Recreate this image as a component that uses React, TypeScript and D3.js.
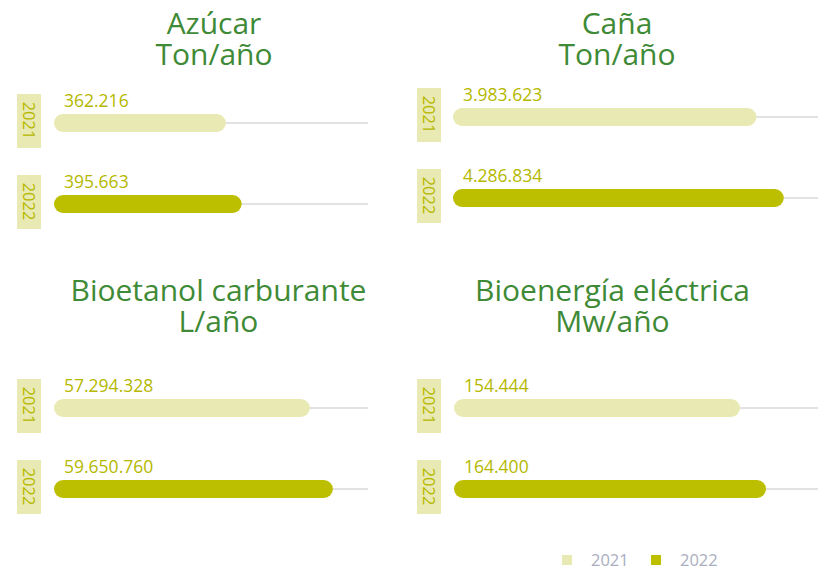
import React, { useEffect, useRef } from "react";
import * as d3 from "d3";

// data
const panels = ["Azúcar", "Caña", "Bioetanol carburante", "Bioenergía eléctrica"];
const units = ["Ton/año", "Ton/año", "L/año", "Mw/año"];
const years = ["2021", "2022"];
const values2021 = [362216, 3983623, 57294328, 154444];
const values2022 = [395663, 4286834, 59650760, 164400];
// axis extent of each panel
const scaleMin = [0, 612000, 31130000, 44900];
const scaleMax = [662000, 4667000, 63240000, 184300];

const W = 818, H = 569;
const FONT = "'Open Sans', 'Noto Sans', sans-serif";
const LIGHT = "#e9eab3", DARK = "#bcbf00", VALUE = "#b5b800", TITLE = "#3f8a36";

// layout of the four panels
const layout = [
  { cx: 214, titleY: 34, barX: 54, boxX: 17, trackEnd: 368, rowY: [114, 195] },
  { cx: 617, titleY: 34, barX: 453, boxX: 417, trackEnd: 818, rowY: [108, 189] },
  { cx: 218.5, titleY: 301, barX: 54, boxX: 17, trackEnd: 368, rowY: [399, 480] },
  { cx: 612.5, titleY: 301, barX: 454, boxX: 417, trackEnd: 818, rowY: [399, 480] },
];

const locale = d3.formatLocale({ decimal: ",", thousands: ".", grouping: [3], currency: ["", ""] });
const fmt = locale.format(",d");

export default function App() {
  const ref = useRef<SVGSVGElement>(null);

  useEffect(() => {
    const svg = d3.select(ref.current).html("");
    const color = d3.scaleOrdinal<string, string>().domain(years).range([LIGHT, DARK]);

    panels.forEach((name, i) => {
      const L = layout[i];
      const g = svg.append("g");
      const x = d3.scaleLinear().domain([scaleMin[i], scaleMax[i]]).range([L.barX, L.trackEnd]);

      const title = g.append("text")
        .attr("text-anchor", "middle")
        .attr("fill", TITLE)
        .style("font-family", FONT).style("font-size", "30px");
      title.append("tspan").attr("x", L.cx).attr("y", L.titleY).text(name);
      title.append("tspan").attr("x", L.cx).attr("y", L.titleY + 31).text(units[i]);

      const vals = [values2021[i], values2022[i]];
      years.forEach((yr, j) => {
        const y0 = L.rowY[j];
        const v = vals[j];

        // year tag
        g.append("rect")
          .attr("x", L.boxX).attr("y", y0 - 20)
          .attr("width", 24).attr("height", 54)
          .attr("fill", LIGHT);
        g.append("text")
          .attr("transform", `translate(${L.boxX + 12},${y0 + 6.5}) rotate(90)`)
          .attr("text-anchor", "middle")
          .attr("dy", "0.35em")
          .attr("fill", VALUE)
          .style("font-family", FONT).style("font-size", "16.5px")
          .text(yr);

        // track
        g.append("line")
          .attr("x1", L.barX).attr("x2", L.trackEnd)
          .attr("y1", y0 + 9).attr("y2", y0 + 9)
          .attr("stroke", "#e2e2e2").attr("stroke-width", 2);

        // bar
        g.append("rect")
          .attr("x", x(scaleMin[i])).attr("y", y0)
          .attr("width", x(v) - x(scaleMin[i])).attr("height", 18)
          .attr("rx", 9)
          .attr("fill", color(yr));

        g.append("text")
          .attr("x", L.barX + 10).attr("y", y0 - 7.5)
          .attr("fill", VALUE)
          .style("font-family", FONT).style("font-size", "17.5px")
          .text(fmt(v));
      });
    });

    // legend
    const leg = svg.append("g");
    const lx = [562, 651];
    years.forEach((yr, j) => {
      leg.append("rect")
        .attr("x", lx[j]).attr("y", 555)
        .attr("width", 10).attr("height", 10)
        .attr("fill", color(yr));
      leg.append("text")
        .attr("x", lx[j] + 29).attr("y", 566)
        .attr("fill", "#a9aebf")
        .style("font-family", FONT).style("font-size", "16.5px")
        .text(yr);
    });
  }, []);

  return (
    <svg ref={ref} width={W} height={H}
      style={{ position: "absolute", left: 0, top: 0, background: "#fff" }} />
  );
}
